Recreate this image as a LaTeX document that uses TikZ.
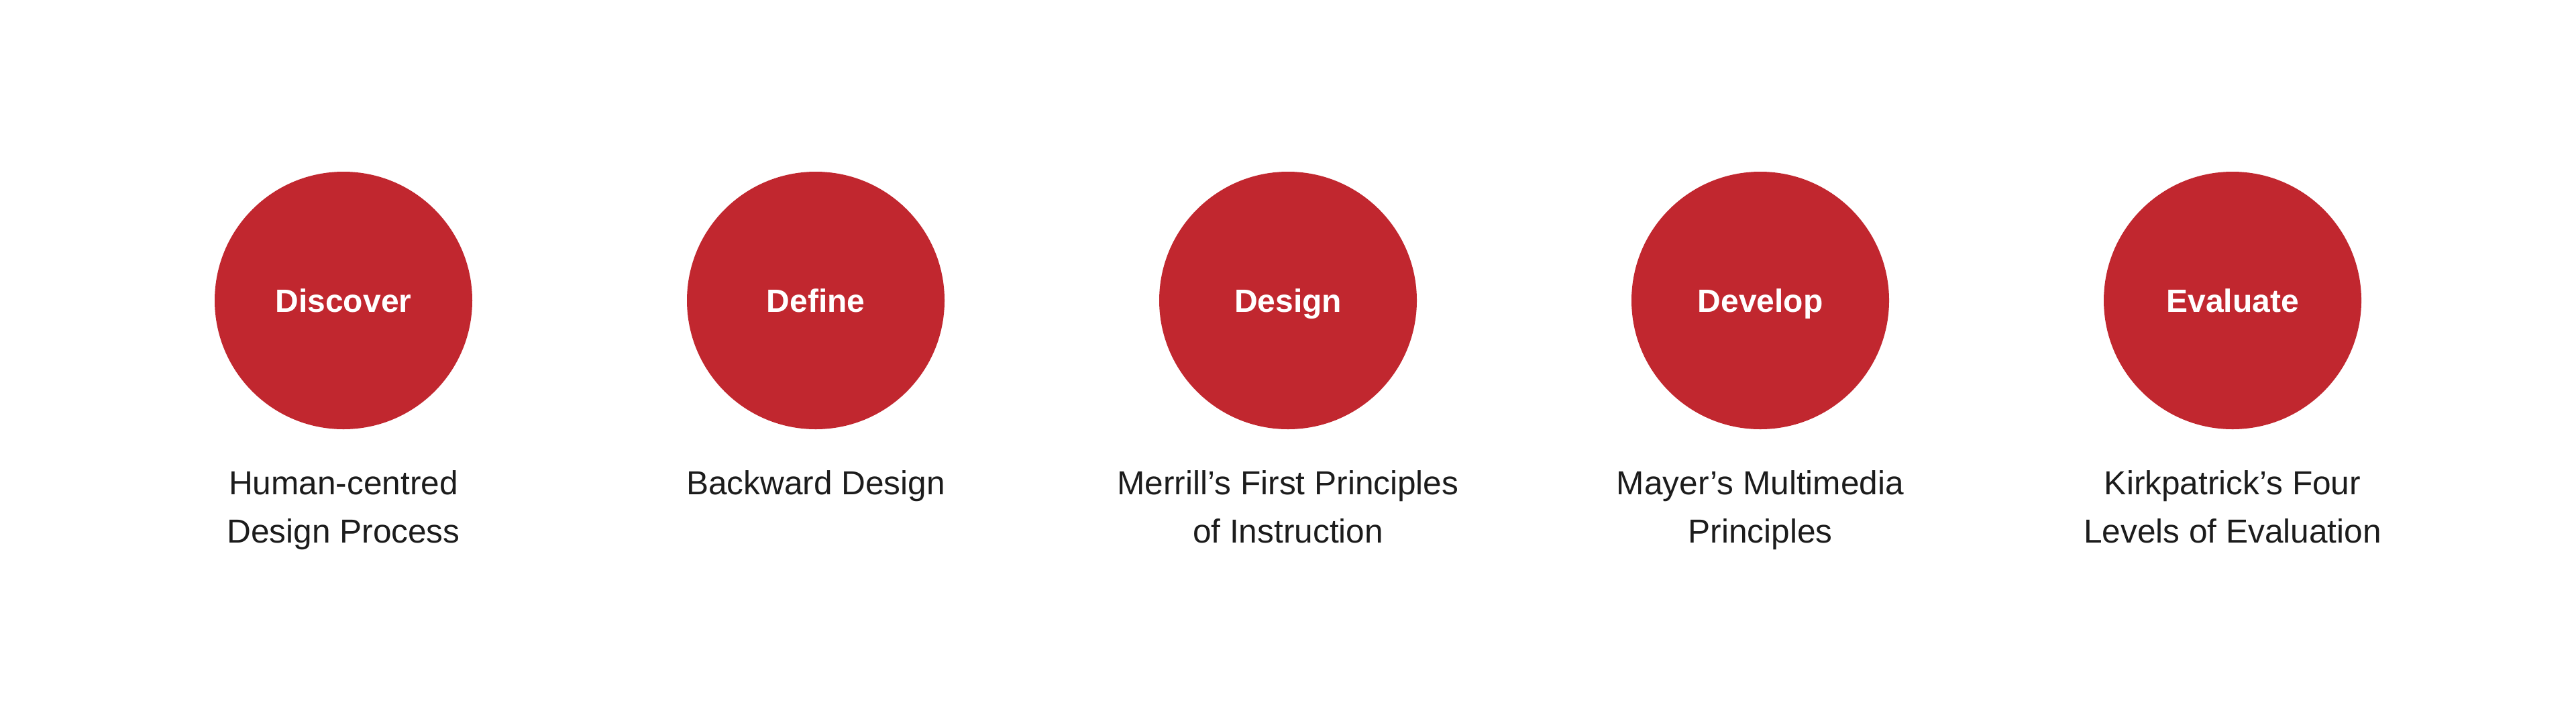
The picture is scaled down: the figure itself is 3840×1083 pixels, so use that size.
\documentclass[tikz,border=0pt]{standalone}
\usepackage{fontspec}
\setmainfont{Liberation Sans}
\definecolor{dotred}{HTML}{C1272F}
\definecolor{labeltext}{HTML}{1C1C1C}
\begin{document}
\begin{tikzpicture}[x=0.25pt,y=-0.25pt,
  phase/.style={circle,fill=dotred,draw=none,minimum size=96pt,inner sep=0pt,
    text=white,font=\fontsize{12pt}{14pt}\selectfont\bfseries,text height=8.6pt,text depth=0pt},
  caption/.style={anchor=base,align=center,text=labeltext,inner sep=0pt,
    font=\fontsize{12.4pt}{18pt}\selectfont}]
\useasboundingbox (0,0) rectangle (3840,1083);
\node[phase] (c1) at (512,448) {Discover};
\node[phase] (c2) at (1216,448) {Define};
\node[phase] (c3) at (1920,448) {Design};
\node[phase] (c4) at (2624,448) {Develop};
\node[phase] (c5) at (3328,448) {Evaluate};
% base anchor of a multi-line node sits on its last line
\node[caption] (t1) at (512,809) {Human-centred\\Design Process};
\node[caption] (t2) at (1216,737) {Backward Design};
\node[caption] (t3) at (1920,809) {Merrill’s First Principles\\of Instruction};
\node[caption] (t4) at (2624,809) {Mayer’s Multimedia\\Principles};
\node[caption] (t5) at (3328,809) {Kirkpatrick’s Four\\Levels of Evaluation};
\end{tikzpicture}
\end{document}
